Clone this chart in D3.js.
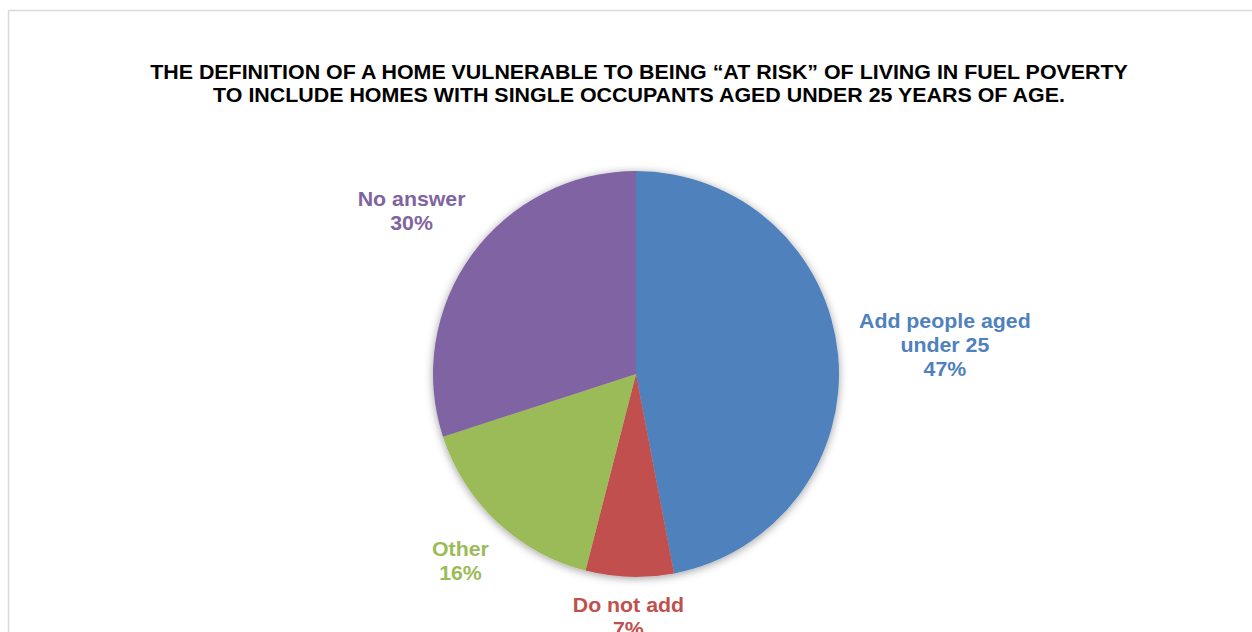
<!DOCTYPE html>
<html>
<head>
<meta charset="utf-8">
<script src="https://cdn.jsdelivr.net/npm/d3@7"></script>
<style>
  html, body { margin: 0; padding: 0; background: #ffffff; }
  svg { display: block; }
  text { font-family: "Liberation Sans", Arial, sans-serif; font-weight: bold; }
</style>
</head>
<body>
<svg id="chart" width="1252" height="632"></svg>
<script>
// Survey responses on extending the "at risk" definition
const categories = ["Add people aged under 25", "Do not add", "Other", "No answer"];
const labelLines = [["Add people aged", "under 25"], ["Do not add"], ["Other"], ["No answer"]];
const shares = [47, 7, 16, 30];
const colors = ["#4F81BD", "#C0504D", "#9BBB59", "#8064A2"];
const titleLines = [
  "THE DEFINITION OF A HOME VULNERABLE TO BEING \u201CAT RISK\u201D OF LIVING IN FUEL POVERTY",
  "TO INCLUDE HOMES WITH SINGLE OCCUPANTS AGED UNDER 25 YEARS OF AGE."
];

const W = 1252, H = 632;
const cx = 636, cy = 374, radius = 203;
const svg = d3.select("#chart");

// soft glow under the pie
const defs = svg.append("defs");
const f = defs.append("filter").attr("id", "pieShadow")
  .attr("x", "-20%").attr("y", "-20%").attr("width", "140%").attr("height", "140%");
f.append("feDropShadow").attr("dx", 0).attr("dy", 1.5)
  .attr("stdDeviation", 4.5).attr("flood-color", "#000").attr("flood-opacity", 0.38);

// chart frame
svg.append("rect")
  .attr("x", 8.5).attr("y", 10.5).attr("width", 1300).attr("height", 700)
  .attr("fill", "none").attr("stroke", "#d9d9d9").attr("stroke-width", 1.5);

// title
const title = svg.append("g")
  .attr("transform", "translate(639,0) scale(1.07,1)")
  .append("text")
  .attr("text-anchor", "middle")
  .attr("font-size", 20)
  .attr("fill", "#000");
titleLines.forEach((t, i) => {
  title.append("tspan").attr("x", 0).attr("y", 79 + i * 23).text(t);
});

const data = categories.map((c, i) => ({ name: c, lines: labelLines[i], value: shares[i], color: colors[i] }));

const pie = d3.pie().value(d => d.value).sort(null);
const arcs = pie(data);
const arc = d3.arc().innerRadius(0).outerRadius(radius);

const g = svg.append("g").attr("transform", `translate(${cx},${cy})`);
g.append("g").attr("filter", "url(#pieShadow)")
  .selectAll("path").data(arcs).join("path")
  .attr("d", arc)
  .attr("fill", d => d.data.color);

// data labels: each label box sits just outside the rim, centred on the slice's mid-angle ray
const fontSize = 20.5, sx = 1.04, lineH = 24, capH = 0.716 * fontSize;
const gap = 20;
const labels = g.selectAll("g.lbl").data(arcs).join("g").attr("class", "lbl");
labels.each(function (d) {
  const grp = d3.select(this);
  const lines = d.data.lines.concat([d.data.value + "%"]);
  const n = lines.length;
  // glyph box: from cap top of first line to baseline of last line, centred on 0
  const boxH = capH + (n - 1) * lineH;
  const firstBase = -boxH / 2 + capH;
  const t = grp.append("g").attr("transform", `scale(${sx},1)`).append("text")
    .attr("text-anchor", "middle")
    .attr("font-size", fontSize)
    .attr("fill", d.data.color);
  lines.forEach((s, i) => {
    t.append("tspan").attr("x", 0).attr("y", firstBase + i * lineH).text(s);
  });
  const hw = t.node().getBBox().width * sx / 2, hh = boxH / 2;
  const mid = (d.startAngle + d.endAngle) / 2;
  const ux = Math.sin(mid), uy = -Math.cos(mid);
  // find the distance along the ray where the nearest box point is radius+gap away
  const nearest = s => {
    const px = ux * s, py = uy * s;
    const nx = Math.max(Math.abs(px) - hw, 0), ny = Math.max(Math.abs(py) - hh, 0);
    return Math.hypot(nx, ny);
  };
  let lo = 0, hi = radius * 3;
  for (let k = 0; k < 60; k++) {
    const m = (lo + hi) / 2;
    if (nearest(m) < radius + gap) lo = m; else hi = m;
  }
  grp.attr("transform", `translate(${ux * lo},${uy * lo})`);
});
</script>
</body>
</html>
